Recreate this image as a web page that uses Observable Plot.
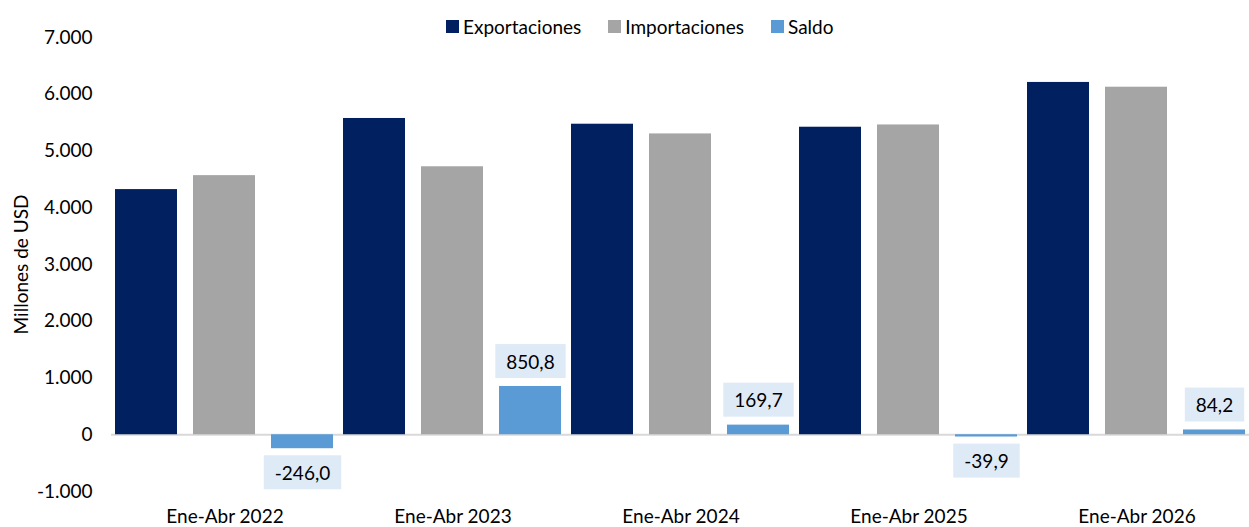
<!DOCTYPE html>
<html><head><meta charset="utf-8">
<script src="https://cdn.jsdelivr.net/npm/d3@7"></script>
<script src="https://cdn.jsdelivr.net/npm/@observablehq/plot@0.6"></script>
<style>
body{margin:0;background:#fff;font-family:Lato,"Open Sans",sans-serif;}
#wrap{position:relative;width:1249px;height:527px;overflow:hidden}
#wrap svg{display:block}
#legend{position:absolute;top:16px;left:446px;display:flex;align-items:center;font-size:19px;line-height:21px;color:#000;white-space:nowrap;z-index:2}
.item{display:flex;align-items:center;margin-right:27px}
.sw{width:13px;height:13px;margin-right:4px}
</style></head><body>
<div id="wrap"><div id="legend"></div></div>
<script>
const periods = ["Ene-Abr 2022", "Ene-Abr 2023", "Ene-Abr 2024", "Ene-Abr 2025", "Ene-Abr 2026"];
const series = ["Exportaciones", "Importaciones", "Saldo"];
const exportaciones = [4320, 5573, 5472, 5419, 6208];
const importaciones = [4566, 4722, 5301, 5459, 6124];
const saldo = [-246.0, 850.8, 169.7, -39.9, 84.2];
const colors = ["#002060", "#A5A5A5", "#5B9BD5"];
const yTicks = [-1000, 0, 1000, 2000, 3000, 4000, 5000, 6000, 7000];

const rows = periods.flatMap((p, i) => [
  {period: p, serie: series[0], value: exportaciones[i]},
  {period: p, serie: series[1], value: importaciones[i]},
  {period: p, serie: series[2], value: saldo[i]}
]);
const saldoRows = rows.filter(d => d.serie === "Saldo");

const es = d3.formatLocale({decimal: ",", thousands: ".", grouping: [3], currency: ["", "€"], minus: "-"});
const fmtInt = es.format(",.0f");
const fmt1 = es.format(".1f");

// legend
const legend = d3.select("#legend");
series.forEach((s, i) => {
  const it = legend.append("div").attr("class", "item");
  it.append("div").attr("class", "sw").style("background", colors[i]);
  it.append("span").text(s);
});

const chart = Plot.plot({
  width: 1249, height: 527,
  marginTop: 37, marginBottom: 36, marginLeft: 112, marginRight: 0,
  style: {fontFamily: "Lato, 'Open Sans', sans-serif", fontSize: "19px", color: "#000", background: "transparent", overflow: "visible"},
  fx: {domain: periods, paddingInner: 0.03, paddingOuter: 0, label: null, tickSize: 0, tickPadding: 18, axis: "bottom"},
  x: {domain: series, axis: null, paddingInner: 0.2, paddingOuter: 0},
  y: {domain: [-1000, 7000], ticks: yTicks, tickFormat: fmtInt, tickSize: 0, tickPadding: 22,
      label: "Millones de USD", labelAnchor: "center", labelOffset: 100, labelArrow: "none"},
  color: {domain: series, range: colors},
  marks: [
    Plot.ruleY([0], {stroke: "#D9D9D9", strokeWidth: 2, insetLeft: -3, insetRight: -4}),
    Plot.barY(rows, {fx: "period", x: "serie", y: "value", fill: "serie"}),
    Plot.text(saldoRows.filter(d => d.value >= 0), {fx: "period", x: "serie", y: "value", text: d => fmt1(d.value), dy: -24, lineAnchor: "middle", fill: "#000"}),
    Plot.text(saldoRows.filter(d => d.value < 0), {fx: "period", x: "serie", y: "value", text: d => fmt1(d.value), dy: 25, lineAnchor: "middle", fill: "#000"})
  ]
});
document.getElementById("wrap").appendChild(chart);

// background boxes behind the saldo labels
const labelSet = new Set(saldo.map(fmt1));
d3.select(chart).selectAll("text").each(function() {
  if (!labelSet.has(this.textContent.trim())) return;
  const b = this.getBBox();
  const padX = 11, padY = 5.5;
  const r = document.createElementNS("http://www.w3.org/2000/svg", "rect");
  r.setAttribute("x", b.x - padX);
  r.setAttribute("y", b.y - padY);
  r.setAttribute("width", b.width + 2 * padX);
  r.setAttribute("height", b.height + 2 * padY);
  r.setAttribute("fill", "#DEEBF7");
  const t = this.getAttribute("transform");
  if (t) r.setAttribute("transform", t);
  this.parentNode.insertBefore(r, this);
});
</script>
</body></html>
